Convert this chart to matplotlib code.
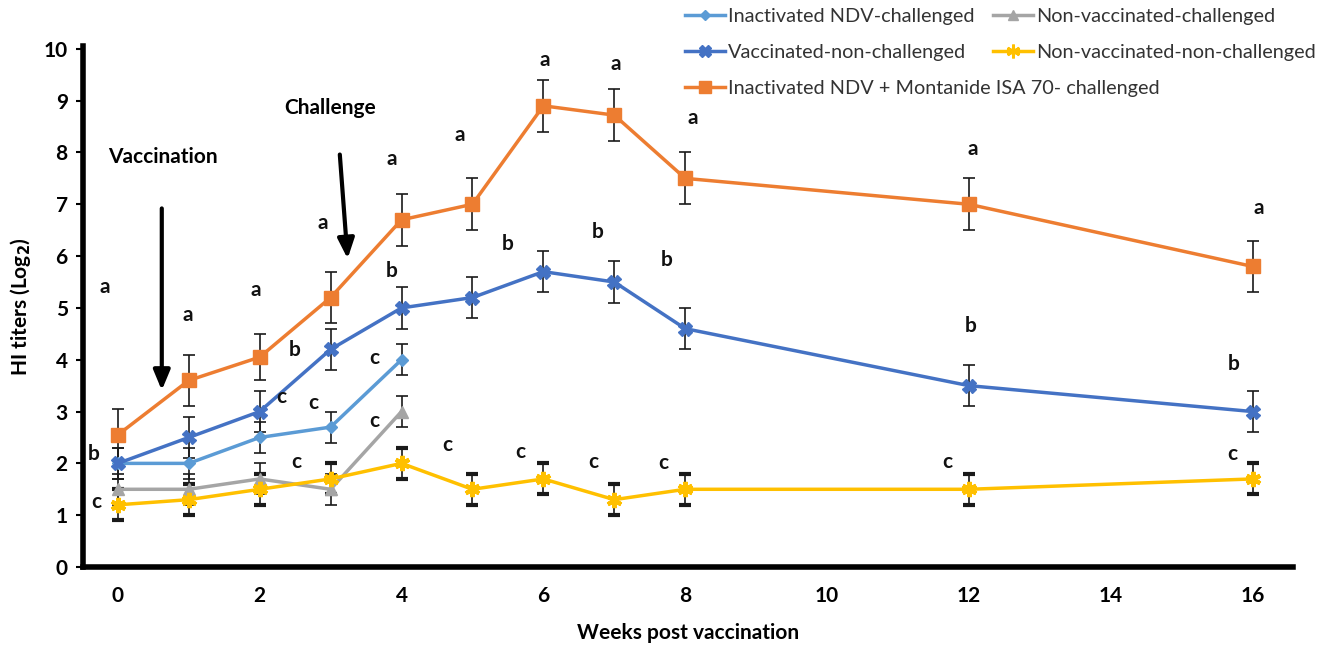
import matplotlib
matplotlib.use("Agg")
import matplotlib.pyplot as plt
from matplotlib.lines import Line2D
import numpy as np

plt.rcParams['font.family'] = ['Lato', 'DejaVu Sans']

weeks = [0, 1, 2, 3, 4, 5, 6, 7, 8, 12, 16]
weeks_short = [0, 1, 2, 3, 4]

montanide = [2.55, 3.6, 4.05, 5.2, 6.7, 7.0, 8.9, 8.72, 7.5, 7.0, 5.8]
montanide_err = [0.5, 0.5, 0.45, 0.5, 0.5, 0.5, 0.5, 0.5, 0.5, 0.5, 0.5]
vacc_nonchal = [2.0, 2.5, 3.0, 4.2, 5.0, 5.2, 5.7, 5.5, 4.6, 3.5, 3.0]
vacc_nonchal_err = [0.3, 0.4, 0.4, 0.4, 0.4, 0.4, 0.4, 0.4, 0.4, 0.4, 0.4]
inact_chal = [2.0, 2.0, 2.5, 2.7, 4.0]
inact_chal_err = [0.3, 0.3, 0.3, 0.3, 0.3]
nonvacc_chal = [1.5, 1.5, 1.7, 1.5, 3.0]
nonvacc_chal_err = [0.3, 0.3, 0.3, 0.3, 0.3]
nonvacc_nonchal = [1.2, 1.3, 1.5, 1.7, 2.0, 1.5, 1.7, 1.3, 1.5, 1.5, 1.7]
nonvacc_nonchal_err = [0.3, 0.3, 0.3, 0.3, 0.3, 0.3, 0.3, 0.3, 0.3, 0.3, 0.3]

labels = ["Inactivated NDV-challenged", "Vaccinated-non-challenged",
          "Inactivated NDV + Montanide ISA 70- challenged",
          "Non-vaccinated-challenged", "Non-vaccinated-non-challenged"]

# significance letters (letter, x, y)
letters = [
    ("a", -0.18, 5.4), ("a", 0.99, 4.86), ("a", 1.95, 5.34), ("a", 2.89, 6.63),
    ("a", 3.86, 7.88), ("a", 4.82, 8.34), ("a", 6.02, 9.79), ("a", 7.02, 9.71),
    ("a", 8.1, 8.67), ("a", 12.06, 8.07), ("a", 16.08, 6.92),
    ("b", -0.34, 2.18), ("b", 2.5, 4.18), ("b", 3.86, 5.72), ("b", 5.49, 6.24),
    ("b", 6.77, 6.47), ("b", 7.74, 5.93), ("b", 12.02, 4.66), ("b", 15.73, 3.91),
    ("c", -0.31, 1.25), ("c", 2.31, 3.29), ("c", 2.75, 3.16), ("c", 3.61, 4.03),
    ("c", 3.62, 2.81), ("c", 2.51, 2.02), ("c", 4.64, 2.35), ("c", 5.67, 2.22),
    ("c", 6.7, 2.02), ("c", 7.69, 2.0), ("c", 11.7, 2.02), ("c", 15.71, 2.18),
]

fig = plt.figure(figsize=(13.31, 6.51), dpi=100)
ax = fig.add_axes([0.0624, 0.129, 0.9091, 0.800])

c_light = "#5b9bd5"
c_dark = "#4472c4"
c_orange = "#ed7d31"
c_grey = "#a5a5a5"
c_yellow = "#ffc000"

ekw = dict(ecolor="#1a1a1a", elinewidth=1.2, capsize=4, capthick=1.2, zorder=2)
lw = 2.5

styles = {
    "light": dict(color=c_light, marker="D", ms=6),
    "grey": dict(color=c_grey, marker="^", ms=8),
    "yellow": dict(color=c_yellow, marker=(6, 2, 0), ms=11, mew=3),
    "dark": dict(color=c_dark, marker="X", ms=10),
    "orange": dict(color=c_orange, marker="s", ms=10),
}

h1 = ax.errorbar(weeks_short, inact_chal, yerr=inact_chal_err, lw=lw, **styles["light"], **ekw)
h4 = ax.errorbar(weeks_short, nonvacc_chal, yerr=nonvacc_chal_err, lw=lw, **styles["grey"], **ekw)
h5 = ax.errorbar(weeks, nonvacc_nonchal, yerr=nonvacc_nonchal_err, lw=lw, **styles["yellow"], **ekw)
h2 = ax.errorbar(weeks, vacc_nonchal, yerr=vacc_nonchal_err, lw=lw, **styles["dark"], **ekw)
h3 = ax.errorbar(weeks, montanide, yerr=montanide_err, lw=lw, **styles["orange"], **ekw)
for h in (h1, h2, h3, h4, h5):
    h[0].set_zorder(3)

for t, x, y in letters:
    ax.text(x, y, t, ha="center", va="center", fontsize=15, fontweight="bold", color="#111111")

ax.annotate("", xy=(0.62, 3.41), xytext=(0.62, 6.92),
            arrowprops=dict(arrowstyle="-|>,head_width=0.5,head_length=1.2", lw=3, color="black",
                            shrinkA=0, shrinkB=0))
ax.annotate("", xy=(3.24, 5.95), xytext=(3.13, 7.96),
            arrowprops=dict(arrowstyle="-|>,head_width=0.5,head_length=1.2", lw=3, color="black",
                            shrinkA=0, shrinkB=0))
ax.text(0.63, 7.92, "Vaccination", ha="center", va="center", fontsize=15, fontweight="bold")
ax.text(2.99, 8.86, "Challenge", ha="center", va="center", fontsize=15, fontweight="bold")

ax.set_xlim(-0.49, 16.57)
ax.set_ylim(0, 10.05)
ax.set_xticks(np.arange(0, 17, 2))
ax.set_yticks(np.arange(0, 11, 1))
ax.tick_params(axis="x", length=0, pad=14, labelsize=15)
ax.tick_params(axis="y", length=5, width=1.5, direction="out", labelsize=15, pad=6)
for lab in ax.get_xticklabels() + ax.get_yticklabels():
    lab.set_fontweight("bold")
for s in ("top", "right"):
    ax.spines[s].set_visible(False)
for s in ("left", "bottom"):
    ax.spines[s].set_linewidth(4)

ax.set_xlabel("Weeks post vaccination", fontsize=15, fontweight="bold", labelpad=12)
ax.set_ylabel("HI titers (Log$_\\mathbf{2}$)", fontsize=15, fontweight="bold", labelpad=8)

def proxy(key):
    st = dict(styles[key])
    st["ms"] = st["ms"] * 0.9
    if "mew" in st:
        st["mew"] = 2
    return Line2D([], [], lw=lw, **st)

legkw = dict(loc="upper left", frameon=False, fontsize=14.3, handlelength=2.0,
             handletextpad=0.15, labelspacing=0.95, borderpad=0, borderaxespad=0)
leg1 = fig.legend([proxy("light"), proxy("dark"), proxy("orange")],
                  [labels[0], labels[1], labels[2]],
                  bbox_to_anchor=(685 / 1331, 1 - 8 / 651), **legkw)
leg2 = fig.legend([proxy("grey"), proxy("yellow")],
                  [labels[3], labels[4]],
                  bbox_to_anchor=(993 / 1331, 1 - 8 / 651), **legkw)
for lg in (leg1, leg2):
    for t in lg.get_texts():
        t.set_color("#333333")

fig.savefig("out.png", dpi=100)
